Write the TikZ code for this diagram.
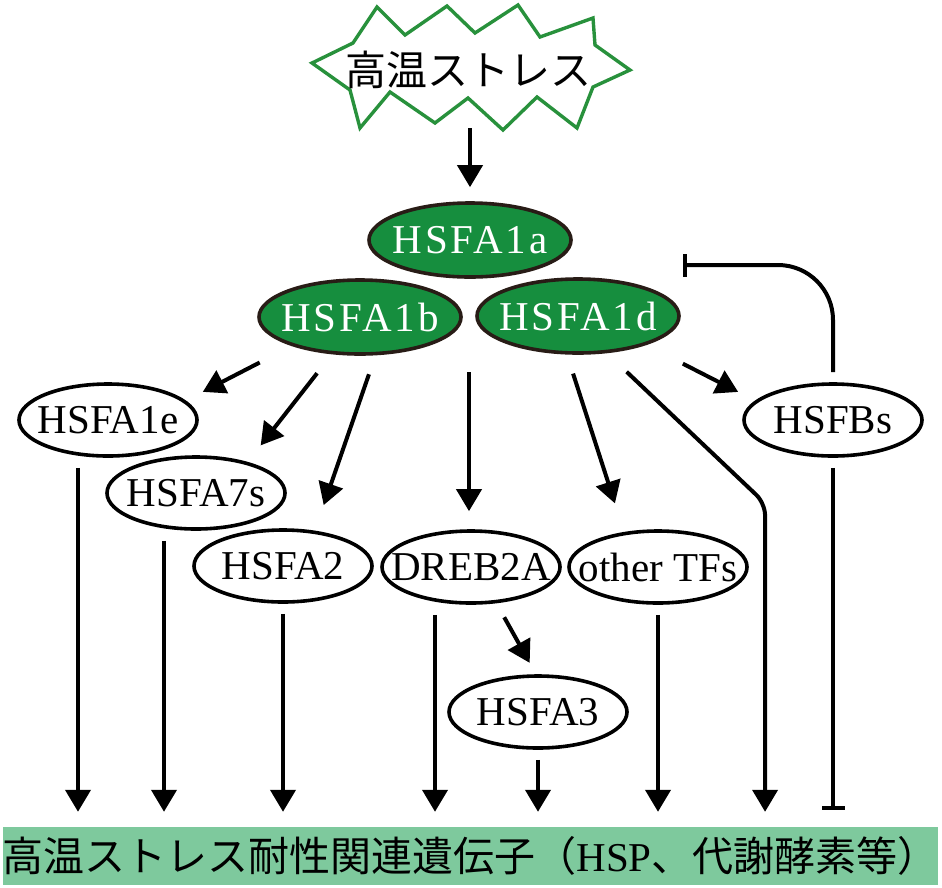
\documentclass[tikz,border=0pt]{standalone}
\usepackage{fontspec}
\setmainfont{Liberation Serif}
\newfontfamily\spaced[LetterSpace=7]{Liberation Serif}
\newfontfamily\jp{Noto Sans CJK JP}
\usetikzlibrary{arrows.meta,shapes.geometric,calc}
\definecolor{burstcol}{RGB}{40,145,60}
\definecolor{tfgreen}{RGB}{22,142,62}
\definecolor{genecol}{RGB}{126,201,157}
\definecolor{rim}{RGB}{40,28,22}
\newcommand{\hsfsize}{\fontsize{41pt}{48pt}\selectfont}
\newcommand{\lbl}[1]{\makebox[0pt]{#1}}
\tikzset{
  burst/.style={draw=burstcol,line width=3.4pt,fill=white},
  tf/.style   ={ellipse,draw,line width=3.6pt,minimum width=178pt,minimum height=72pt,
                inner sep=0pt,font=\hsfsize},
  core/.style ={tf,draw=rim,fill=tfgreen,text=white,minimum width=202pt,minimum height=74pt,
                font=\spaced\hsfsize},
  genes/.style={rectangle,fill=genecol,minimum width=935pt,minimum height=58pt,
                inner sep=0pt,font=\jp\hsfsize},
  arr/.style  ={line width=4pt,-{Triangle[length=22pt,width=25pt]}},
  inh/.style  ={line width=4pt,-{Bar[width=23pt]}},
  down/.style ={arr,shorten <=10pt,shorten >=15pt},
}
\begin{document}
\begin{tikzpicture}[x=1pt,y=-1pt]
\useasboundingbox (0,0) rectangle (942,887);
% heat stress
\draw[burst] (312,63) -- (353,43) -- (377,7) -- (405,35) -- (447,6) -- (475,33)
  -- (518,5) -- (540,37) -- (593,18) -- (595,45) -- (630,70) -- (593,87)
  -- (577,128) -- (537,97) -- (503,130) -- (468,98) -- (435,123) -- (390,92)
  -- (360,128) -- (350,90) -- cycle;
\node[font=\jp\hsfsize,minimum height=116pt] (stress) at (468,70) {高温ストレス};

% HSFA1 core
\node[core] (A1a) at (470,240) {\lbl{HSFA1a}};
\node[core] (A1b) at (360,317) {\lbl{HSFA1b}};
\node[core] (A1d) at (578,316) {\lbl{HSFA1d}};

% downstream factors
\node[tf] (A1e)  at (108,420) {\lbl{HSFA1e}};
\node[tf] (A7s)  at (196,493) {\lbl{HSFA7s}};
\node[tf] (A2)   at (283,566) {\lbl{HSFA2}};
\node[tf] (DREB) at (471,567) {\lbl{DREB2A}};
\node[tf] (oTF)  at (658,567) {\lbl{other TFs}};
\node[tf] (A3)   at (538,712) {\lbl{HSFA3}};
\node[tf] (Bs)   at (833,420) {\lbl{HSFBs}};

% target genes
\node[genes] (genes) at (470.5,856) {\lbl{高温ストレス耐性関連遺伝子（{\rmfamily HSP}、代謝酵素等）}};

\draw[arr,shorten >=14pt] (A1a.north |- stress.south) -- (A1a.north);
\draw[arr,shorten <=36pt,shorten >=19pt] (A1b.203) -- (A1e.14);
\draw[arr,shorten <=24pt,shorten >=21pt] (A1b.233) -- (A7s.31);
\draw[arr,shorten <=20pt,shorten >=27pt] (A1b.292) -- (A2.48);
\coordinate (grp) at ($(A1b.south)!0.5!(A1d.south)$);
\draw[arr,shorten <=17pt,shorten >=18pt] (grp) -- (grp |- DREB.north);
\draw[arr,shorten <=20pt,shorten >=30pt] (A1d.254) -- (oTF.134);
\draw[arr,shorten <=41pt,shorten >=19pt] (A1d.337) -- (Bs.166);
\path (A1d.308) ++(158,150) coordinate (kink);
\draw[arr,rounded corners=12pt,shorten <=27pt,shorten >=15pt]
  (A1d.308) -- (kink) -- (kink |- genes.north);
\draw[arr,shorten <=16pt,shorten >=13pt] (DREB.305) -- (A3.93);
\draw[inh,rounded corners=55pt,shorten <=10pt,shorten >=110pt]
  (Bs.north) |- ([yshift=-25pt]A1a.east);

% into the target genes
\draw[down] ($(A1e.south)+(-30,0)$) coordinate (e1) -- (e1 |- genes.north);
\draw[down] ($(A7s.south)+(-32,0)$) coordinate (e2) -- (e2 |- genes.north);
\draw[down] (A2.south) -- (A2.south |- genes.north);
\draw[down] ($(DREB.south)+(-36,0)$) coordinate (e3) -- (e3 |- genes.north);
\draw[down] (A3.south) -- (A3.south |- genes.north);
\draw[down] (oTF.south) -- (oTF.south |- genes.north);
\draw[inh,shorten <=10pt,shorten >=17pt] (Bs.south) -- (Bs.south |- genes.north);
\end{tikzpicture}
\end{document}
